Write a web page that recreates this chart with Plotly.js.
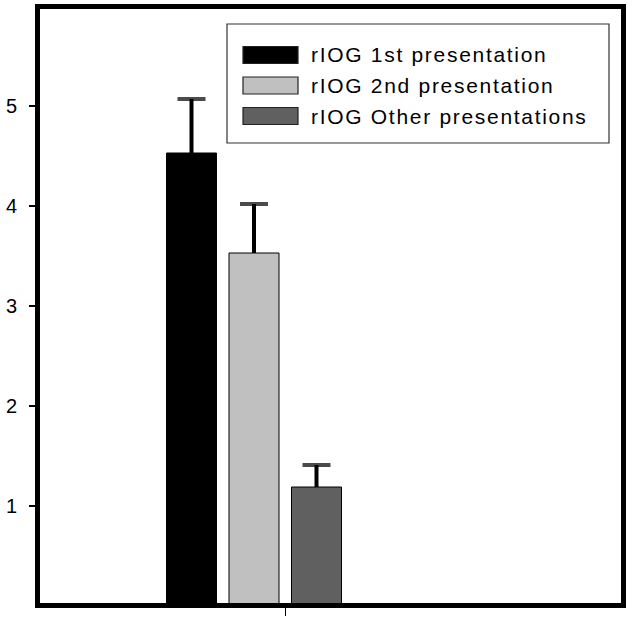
<!DOCTYPE html>
<html>
<head>
<meta charset="utf-8">
<script src="https://cdn.plot.ly/plotly-3.0.1.min.js"></script>
<style>
  body { margin: 0; background: #fff; }
  #chart { width: 632px; height: 621px; }
  .annotation-text { letter-spacing: 1.7px; }
</style>
</head>
<body>
<div id="chart"></div>
<script>
// data
const groupX = [1];
const seriesNames = ['rIOG 1st presentation', 'rIOG 2nd presentation', 'rIOG Other presentations'];
const seriesMeans = [4.53, 3.53, 1.19];
const seriesErrors = [0.54, 0.49, 0.22];
const seriesColors = ['#000000', '#c0c0c0', '#606060'];
const yTicks = [1, 2, 3, 4, 5];

const W = 632, H = 621;
const ms = { l: 40, r: 11, t: 9, b: 18 }; // margins
const plotW = W - ms.l - ms.r;
const plotH = H - ms.t - ms.b;

// pixel -> paper coords, for the hand drawn legend
const px = x => (x - ms.l) / plotW;
const py = y => (H - ms.b - y) / plotH;

// bar slots around the group (x units: 1 unit = 100px)
const slot = 0.625, barW = 0.5, groupShift = -0.31;
const barOffset = i => groupShift - 1.5 * slot + i * slot + (slot - barW) / 2;

const traces = seriesNames.map((name, i) => ({
    type: 'bar',
    name: name,
    x: groupX,
    y: [seriesMeans[i]],
    width: barW,
    offset: barOffset(i),
    marker: { color: seriesColors[i], line: { color: '#000', width: 1 } },
    hoverinfo: 'skip'
}));

// upper-only error bars (no cap at the bar top)
seriesNames.forEach((name, i) => {
    const cx = groupX[0] + barOffset(i) + barW / 2;
    const top = seriesMeans[i] + seriesErrors[i];
    traces.push({
        type: 'scatter', mode: 'lines+markers',
        x: [cx, cx], y: [seriesMeans[i], top],
        line: { color: '#000', width: 4 },
        marker: {
            symbol: 'line-ew', size: [0, 20],
            line: { color: '#000', width: 4 }
        },
        hoverinfo: 'skip'
    });
});

// legend box + swatches + labels
const rowY = [55, 85.5, 116];
const shapes = [{
    type: 'rect', xref: 'paper', yref: 'paper',
    x0: px(227), x1: px(609), y0: py(143), y1: py(24),
    line: { color: '#333', width: 1.2 }, fillcolor: 'rgba(0,0,0,0)', layer: 'above'
}];
const annotations = [];
seriesNames.forEach((name, i) => {
    shapes.push({
        type: 'rect', xref: 'paper', yref: 'paper',
        x0: px(243), x1: px(298), y0: py(rowY[i] + 8.5), y1: py(rowY[i] - 8.5),
        line: { color: '#222', width: 1.2 }, fillcolor: seriesColors[i], layer: 'above'
    });
    annotations.push({
        xref: 'paper', yref: 'paper', x: px(309), y: py(rowY[i]),
        xanchor: 'left', yanchor: 'middle', showarrow: false,
        text: name,
        font: { family: 'Liberation Sans, Arial', size: 21, color: '#000' }
    });
});

const layout = {
    width: W, height: H,
    margin: ms,
    paper_bgcolor: '#fff', plot_bgcolor: '#fff',
    showlegend: false,
    barmode: 'overlay',
    font: { family: 'Liberation Sans, Arial', color: '#000' },
    xaxis: {
        range: [-1.45, 4.36],
        tickvals: [1], ticktext: [''],
        ticks: 'outside', ticklen: 8, tickwidth: 1, tickcolor: '#000',
        showgrid: false, zeroline: false,
        showline: true, linecolor: '#000', linewidth: 5, mirror: true
    },
    yaxis: {
        range: [0.03, 5.97],
        tickvals: yTicks,
        ticks: 'outside', ticklen: 6, tickwidth: 1.5, tickcolor: '#000',
        tickfont: { size: 20 },
        ticklabelstandoff: 8,
        showgrid: false, zeroline: false,
        showline: true, linecolor: '#000', linewidth: 5, mirror: true
    },
    shapes: shapes,
    annotations: annotations
};

Plotly.newPlot('chart', traces, layout, { displayModeBar: false, staticPlot: true });
</script>
</body>
</html>
